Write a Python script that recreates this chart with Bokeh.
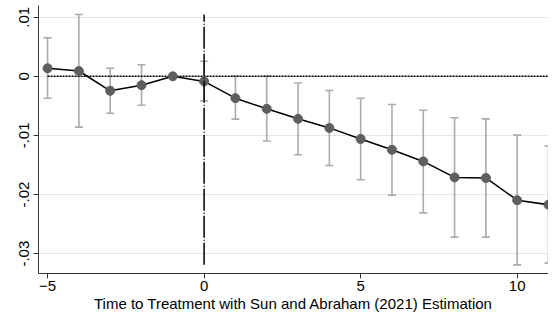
import numpy as np
import pandas as pd
from bokeh.plotting import figure
from bokeh.models import ColumnDataSource, Whisker, Range1d, FixedTicker
from bokeh.embed import file_html
from bokeh.resources import INLINE

# Data
periods = [-5, -4, -3, -2, -1, 0, 1, 2, 3, 4, 5, 6, 7, 8, 9, 10, 11]
coef = [0.00136, 0.0009, -0.00245, -0.0015, 0.0, -0.00086, -0.0037, -0.0055,
        -0.00719, -0.00873, -0.0106, -0.01243, -0.0144, -0.0171, -0.0172,
        -0.02096, -0.02172]
ci_lo = [-0.0037, -0.0086, -0.00625, -0.0049, np.nan, -0.00416, -0.00724,
         -0.01094, -0.01326, -0.0151, -0.0175, -0.0201, -0.0231, -0.0272,
         -0.0272, -0.0319, -0.0316]
ci_hi = [0.0065, 0.01045, 0.00136, 0.00195, np.nan, 0.00256, 0.0, 0.0,
         -0.00112, -0.0024, -0.0037, -0.00476, -0.00575, -0.0070, -0.0072,
         -0.00995, -0.0118]
y_ticks = [-0.03, -0.02, -0.01, 0.0, 0.01]
y_tick_labels = ["-.03", "-.02", "-.01", "0", ".01"]
x_ticks = [-5, 0, 5, 10]
x_label = "Time to Treatment with Sun and Abraham (2021) Estimation"

df = pd.DataFrame({"x": periods, "y": coef, "lo": ci_lo, "hi": ci_hi})
src = ColumnDataSource(df)
src_ci = ColumnDataSource(df.dropna())

FONT = "Liberation Sans"

p = figure(width=548, height=314, output_backend="svg", toolbar_location=None,
           x_range=Range1d(-5.29, 11.0), y_range=Range1d(-0.03336, 0.01198),
           min_border_left=38, min_border_right=0, min_border_top=5,
           min_border_bottom=37)
p.outline_line_color = None
p.background_fill_color = "white"
p.border_fill_color = "white"

# grid
p.xgrid.grid_line_color = None
p.ygrid.grid_line_color = "#e6e6e6"
p.ygrid.grid_line_width = 1
p.ygrid.ticker = FixedTicker(ticks=y_ticks)

# axes
p.yaxis.ticker = FixedTicker(ticks=y_ticks)
p.yaxis.major_label_overrides = {t: l for t, l in zip(y_ticks, y_tick_labels)}
p.xaxis.ticker = FixedTicker(ticks=x_ticks)
p.yaxis.major_label_orientation = "vertical"
for ax in (p.xaxis, p.yaxis):
    ax.axis_line_color = "#333333"
    ax.major_tick_line_color = "#333333"
    ax.major_tick_out = 5
    ax.major_tick_in = 0
    ax.minor_tick_line_color = None
    ax.major_label_text_font = FONT
    ax.major_label_text_font_size = "15px"
    ax.major_label_text_color = "black"
    ax.major_label_standoff = 3
p.yaxis.major_label_standoff = 4
p.xaxis.major_label_standoff = 2
p.xaxis.axis_label = x_label
p.xaxis.axis_label_text_font = FONT
p.xaxis.axis_label_text_font_size = "15px"
p.xaxis.axis_label_text_font_style = "normal"
p.xaxis.axis_label_text_color = "black"
p.xaxis.axis_label_standoff = 1

# zero reference line (dotted) spanning the data range
p.segment(x0=min(periods), y0=0, x1=max(periods), y1=0,
          line_color="black", line_width=1.5, line_dash="2 1")

# confidence intervals
w = Whisker(base="x", lower="lo", upper="hi", source=src_ci,
            line_color="#ababab", line_width=1.6)
w.upper_head.size = 8
w.lower_head.size = 8
w.upper_head.line_color = "#ababab"
w.lower_head.line_color = "#ababab"
w.upper_head.line_width = 1.6
w.lower_head.line_width = 1.6
p.add_layout(w)

# estimates
p.line("x", "y", source=src, line_color="black", line_width=1.5)
p.scatter("x", "y", source=src, size=9, fill_color="#5e5e5e",
          line_color="#5e5e5e")

# treatment line at 0 spanning the CI range
y_top = float(np.nanmax(ci_hi))
y_bot = float(np.nanmin(ci_lo))
p.segment(x0=0, y0=y_bot, x1=0, y1=y_top, line_color="black",
          line_width=1.5, line_dash="22 2 1 2")

open("out.html", "w").write(file_html(p, INLINE))
